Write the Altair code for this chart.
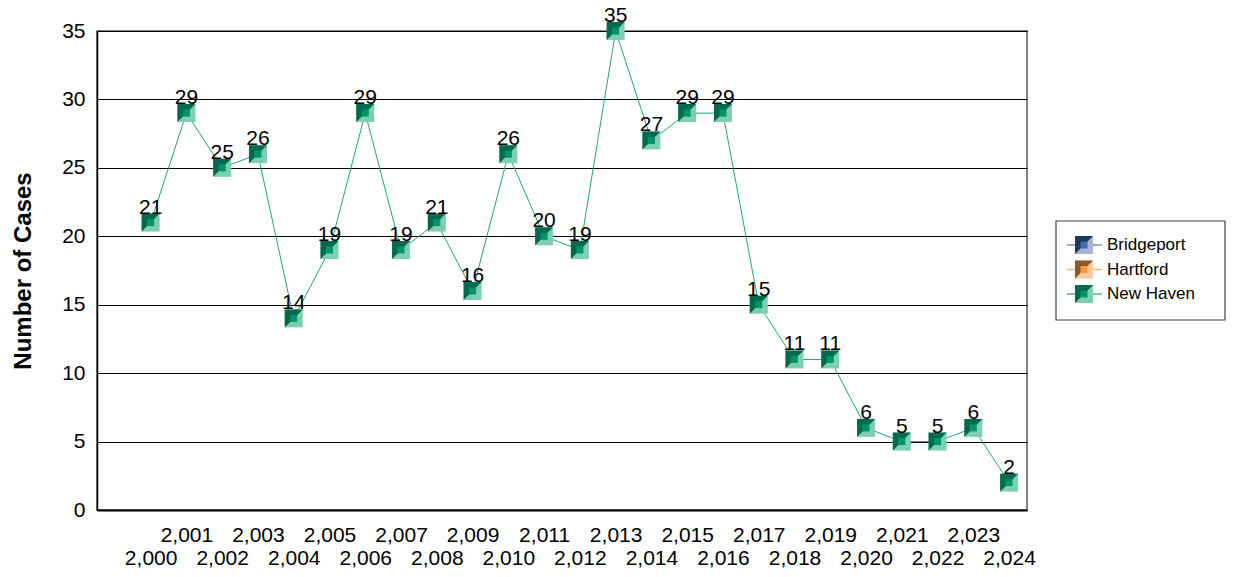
import altair as alt
import pandas as pd

years = list(range(2000, 2025))
new_haven = [21, 29, 25, 26, 14, 19, 29, 19, 21, 16, 26, 20, 19, 35, 27, 29, 29, 15, 11, 11, 6, 5, 5, 6, 2]
y_ticks = [0, 5, 10, 15, 20, 25, 30, 35]

series_names = ["Bridgeport", "Hartford", "New Haven"]
dark_colors = ["#1f3a5f", "#8a5a2c", "#006a4c"]
light_colors = ["#a3b6d3", "#f7c99c", "#7fcdb2"]
inner_colors = ["#3f6fae", "#f49b3d", "#00946b"]
line_colors = ["#7391bd", "#f3b57a", "#4fb894"]

FONT = "Liberation Sans"
TRI = "M-1,-1L1,-1L-1,1Z"

df = pd.DataFrame({"year": years, "cases": new_haven})
leg = pd.DataFrame({
    "series": series_names,
    "dark": dark_colors,
    "light": light_colors,
    "inner": inner_colors,
    "line": line_colors,
})

x_enc = alt.X(
    "year:Q",
    scale=alt.Scale(domain=[1998.5, 2024.5], nice=False, zero=False),
    axis=alt.Axis(
        values=years,
        format=",",
        labelFont=FONT, labelFontSize=21, labelColor="black",
        labelPadding={"condition": {"test": "datum.value % 2 == 0", "value": 37}, "value": 14},
        labelAngle=0,
        labelOverlap=False, labelFlush=False,
        ticks=False, grid=False, domainColor="black", domainWidth=2, title=None,
    ),
)
y_enc = alt.Y(
    "cases:Q",
    scale=alt.Scale(domain=[0, 35], nice=False),
    axis=alt.Axis(
        values=y_ticks, title="Number of Cases",
        titleFont=FONT, titleFontSize=24, titleFontWeight="bold", titleColor="black",
        titlePadding=26,
        labelFont=FONT, labelFontSize=21, labelColor="black", labelPadding=12,
        ticks=False, grid=True, gridColor="black", gridOpacity=1, gridWidth=1,
        domainColor="black", domainWidth=1.5,
    ),
)
y_plain = alt.Y("cases:Q", scale=alt.Scale(domain=[0, 35], nice=False), axis=None)

base = alt.Chart(df)
line = base.mark_line(color="#1fa381", strokeWidth=1).encode(x=x_enc, y=y_enc)
sq = base.mark_point(shape="square", filled=True, size=324, color="#7fcdb2", opacity=1, strokeWidth=0).encode(x=x_enc, y=y_plain)
tri = base.mark_point(shape=TRI, filled=True, size=324, color="#006a4c", opacity=1, strokeWidth=0).encode(x=x_enc, y=y_plain)
inner = base.mark_point(shape="square", filled=True, size=49, color="#00946b", opacity=1, strokeWidth=0).encode(x=x_enc, y=y_plain)
labels = base.mark_text(font=FONT, fontSize=21, color="black", dy=-9, baseline="alphabetic").encode(
    x=x_enc, y=y_plain, text="cases:Q")

ly = alt.Y("series:N", scale=alt.Scale(type="point", domain=series_names, range=[214, 263], padding=0), axis=None)
lb = alt.Chart(leg)
box = lb.transform_filter("datum.series == 'Bridgeport'").mark_rect(
    fill="white", stroke="#404040", strokeWidth=1.2).encode(
    x=alt.value(959), x2=alt.value(1128), y=alt.value(190), y2=alt.value(289))
lrule = lb.mark_rule(strokeWidth=1.5).encode(
    x=alt.value(970), x2=alt.value(1005), y=ly, color=alt.Color("line:N", scale=None))
lsq = lb.mark_point(shape="square", filled=True, size=324, opacity=1, strokeWidth=0).encode(
    x=alt.value(987), y=ly, color=alt.Color("light:N", scale=None))
ltri = lb.mark_point(shape=TRI, filled=True, size=324, opacity=1, strokeWidth=0).encode(
    x=alt.value(987), y=ly, color=alt.Color("dark:N", scale=None))
linner = lb.mark_point(shape="square", filled=True, size=49, opacity=1, strokeWidth=0).encode(
    x=alt.value(987), y=ly, color=alt.Color("inner:N", scale=None))
ltext = lb.mark_text(font=FONT, fontSize=17, color="black", align="left", baseline="middle").encode(
    x=alt.value(1010), y=ly, text="series:N")

chart = alt.layer(
    line, sq, tri, inner, labels, box, lrule, lsq, ltri, linner, ltext
).resolve_scale(y="independent").properties(
    width=930, height=479,
    autosize=alt.AutoSizeParams(type="none"),
    padding={"left": 89, "top": 23, "right": 200, "bottom": 58},
    background="white",
).configure_view(stroke="#808080", strokeWidth=2)

chart.save("out.html", embed_options={"renderer": "svg", "actions": False})
